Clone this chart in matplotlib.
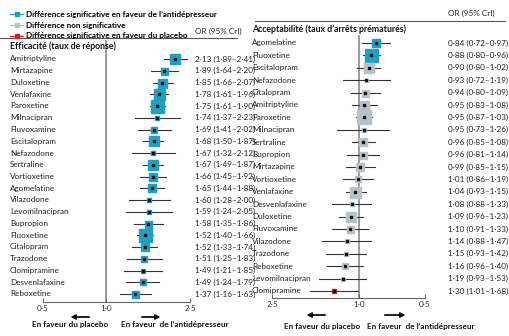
import matplotlib
matplotlib.use("Agg")
import matplotlib.pyplot as plt
from matplotlib.lines import Line2D
from matplotlib.ticker import FixedLocator, FixedFormatter, NullLocator
from matplotlib.transforms import blended_transform_factory

plt.rcParams['font.family'] = ['Lato', 'DejaVu Sans']
FS = 5.9
plt.rcParams['font.size'] = FS

# Efficacy (response rate), odds ratio with 95% CrI
eff_drugs = ["Amitriptyline", "Mirtazapine", "Duloxetine", "Venlafaxine", "Paroxetine",
             "Milnacipran", "Fluvoxamine", "Escitalopram", "Nefazodone", "Sertraline",
             "Vortioxetine", "Agomelatine", "Vilazodone", "Levomilnacipran", "Bupropion",
             "Fluoxetine", "Citalopram", "Trazodone", "Clomipramine", "Desvenlafaxine",
             "Reboxetine"]
eff_or = [2.13, 1.89, 1.85, 1.78, 1.75, 1.74, 1.69, 1.68, 1.67, 1.67, 1.66,
          1.65, 1.60, 1.59, 1.58, 1.52, 1.52, 1.51, 1.49, 1.49, 1.37]
eff_lo = [1.89, 1.64, 1.66, 1.61, 1.61, 1.37, 1.41, 1.50, 1.32, 1.49, 1.45,
          1.44, 1.28, 1.24, 1.35, 1.40, 1.33, 1.25, 1.21, 1.24, 1.16]
eff_hi = [2.41, 2.20, 2.07, 1.96, 1.90, 2.23, 2.02, 1.87, 2.12, 1.87, 1.92,
          1.88, 2.00, 2.05, 1.86, 1.66, 1.74, 1.83, 1.85, 1.79, 1.63]
eff_weight = [10, 7, 9, 11, 13, 4, 6, 10, 4, 10, 8, 8, 5, 4, 7, 13, 8, 6, 5, 6, 7]

# Acceptability (all-cause dropout)
acc_drugs = ["Agomelatine", "Fluoxetine", "Escitalopram", "Nefazodone", "Citalopram",
             "Amitriptyline", "Paroxetine", "Milnacipran", "Sertraline", "Bupropion",
             "Mirtazapine", "Vortioxetine", "Venlafaxine", "Desvenlafaxine", "Duloxetine",
             "Fluvoxamine", "Vilazodone", "Trazodone", "Reboxetine", "Levomilnacipran",
             "Clomipramine"]
acc_or = [0.84, 0.88, 0.90, 0.93, 0.94, 0.95, 0.95, 0.95, 0.96, 0.96, 0.99,
          1.01, 1.04, 1.08, 1.09, 1.10, 1.14, 1.15, 1.16, 1.19, 1.30]
acc_lo = [0.72, 0.80, 0.80, 0.72, 0.80, 0.83, 0.87, 0.73, 0.85, 0.81, 0.85,
          0.86, 0.93, 0.88, 0.96, 0.91, 0.88, 0.93, 0.96, 0.93, 1.01]
acc_hi = [0.97, 0.96, 1.02, 1.19, 1.09, 1.08, 1.03, 1.26, 1.08, 1.14, 1.15,
          1.19, 1.15, 1.33, 1.23, 1.33, 1.47, 1.42, 1.40, 1.53, 1.68]
acc_weight = [8, 13, 10, 3, 7, 9, 14, 4, 8, 7, 8, 6, 11, 5, 10, 7, 4, 5, 6, 4, 5]

ticks = [0.5, 1.0, 2.5]
tick_labels = ["0·5", "1·0", "2·5"]

TEAL = "#1f9fc2"
GREY = "#b9c0c6"
RED = "#c9252c"

W, H = 510, 336
fig = plt.figure(figsize=(W / 100, H / 100), dpi=100)


def fx(x):
    return x / W


def fy(y):
    return 1 - y / H


def fmt(v):
    return f"{v:.2f}".replace(".", "·")


def forest(ax, drugs, orr, lo, hi, weight, colour_of, label_x, or_x):
    rows = range(len(drugs))
    for i in rows:
        c = colour_of(lo[i], hi[i])
        ax.plot([lo[i], hi[i]], [i, i], color="#333333", lw=0.8, zorder=1)
        ax.plot(orr[i], i, marker="s", ms=weight[i] * 0.72, color=c, mec=c, zorder=2)
        ax.plot(orr[i], i, marker="s", ms=1.6, color="#111111", zorder=3)
    ax.axvline(1.0, color="#8a8a8a", lw=1.2, zorder=0)
    ax.set_xscale("log")
    ax.xaxis.set_major_locator(FixedLocator(ticks))
    ax.xaxis.set_major_formatter(FixedFormatter(tick_labels))
    ax.xaxis.set_minor_locator(NullLocator())
    ax.set_yticks([])
    for s in ["top", "left", "right"]:
        ax.spines[s].set_visible(False)
    ax.spines["bottom"].set_color("#666666")
    ax.spines["bottom"].set_linewidth(0.8)
    ax.tick_params(axis="x", direction="in", length=3, width=0.8, color="#666666",
                   pad=2, labelsize=FS, labelcolor="#333333")
    tr = blended_transform_factory(fig.transFigure, ax.transData)
    for i in rows:
        ax.text(fx(label_x), i, drugs[i], transform=tr, ha="left", va="center",
                color="#222222")
        ax.text(fx(or_x), i, f"{fmt(orr[i])} ({fmt(lo[i])}–{fmt(hi[i])})",
                transform=tr, ha="left", va="center", color="#222222")


# left panel: efficacy
ax1 = fig.add_axes([fx(43), fy(302), fx(190 - 43), (302 - 40) / H])
ax1.set_xlim(0.5, 2.5)
ax1.set_ylim((302 - 59) / 11.75, -(59 - 40) / 11.75)
forest(ax1, eff_drugs, eff_or, eff_lo, eff_hi, eff_weight,
       lambda l, h: TEAL if l > 1 else (RED if h < 1 else GREY), 10, 195)

# right panel: acceptability (axis reversed)
ax2 = fig.add_axes([fx(272), fy(298), fx(425 - 272), (298 - 35) / H])
ax2.set_xlim(2.5, 0.5)
ax2.set_ylim((298 - 43) / 12.4, -(43 - 35) / 12.4)
forest(ax2, acc_drugs, acc_or, acc_lo, acc_hi, acc_weight,
       lambda l, h: TEAL if h < 1 else (RED if l > 1 else GREY), 252, 448)

# legend
handles = [Line2D([], [], color=c, lw=0.9, marker="s", ms=3.5) for c in (TEAL, GREY, RED)]
labels = ["Différence significative en faveur de l’antidépresseur",
          "Différence non significative",
          "Différence significative en faveur du placebo"]
fig.legend(handles, labels, loc="upper left", bbox_to_anchor=(fx(6), fy(7)),
           frameon=False, handlelength=1.6, handletextpad=0.4, labelspacing=0.45,
           borderpad=0, prop={"size": FS, "weight": "bold"})

# headers
fig.text(fx(195), fy(31), "OR (95% CrI)", ha="left", va="center", color="#222222")
fig.text(fx(448), fy(13), "OR (95% CrI)", ha="left", va="center", color="#222222")
fig.add_artist(Line2D([0, fx(237)], [fy(38), fy(38)], lw=0.8, color="#555555"))
fig.add_artist(Line2D([fx(255), fx(505)], [fy(21), fy(21)], lw=0.8, color="#555555"))
fig.text(fx(10), fy(46), "Efficacité (taux de réponse)", ha="left", va="center",
         fontsize=FS + 0.4, weight="bold", color="#111111")
fig.text(fx(252), fy(29), "Acceptabilité (taux d’arrêts prématurés)", ha="left", va="center",
         fontsize=FS + 0.4, weight="bold", color="#111111")

# direction arrows below each axis
arrow = dict(arrowstyle="-|>", color="#111111", lw=1.0, mutation_scale=7)
for (a0, a1), (b0, b1), y_arr, tx_l, tx_r, y_txt in [
        ((92, 68), (139, 163), 317, 70, 175, 325),
        ((328, 304), (382, 408), 315, 322, 421, 326)]:
    fig.add_artist(plt.annotate("", xy=(fx(a1), fy(y_arr)), xytext=(fx(a0), fy(y_arr)),
                                xycoords="figure fraction", arrowprops=arrow))
    fig.add_artist(plt.annotate("", xy=(fx(b1), fy(y_arr)), xytext=(fx(b0), fy(y_arr)),
                                xycoords="figure fraction", arrowprops=arrow))
    fig.text(fx(tx_l), fy(y_txt), "En faveur du placebo", ha="center", va="center",
             weight="bold", color="#111111")
    fig.text(fx(tx_r), fy(y_txt), "En faveur  de l’antidépresseur", ha="center", va="center",
             weight="bold", color="#111111")

fig.savefig("out.png", dpi=100)
